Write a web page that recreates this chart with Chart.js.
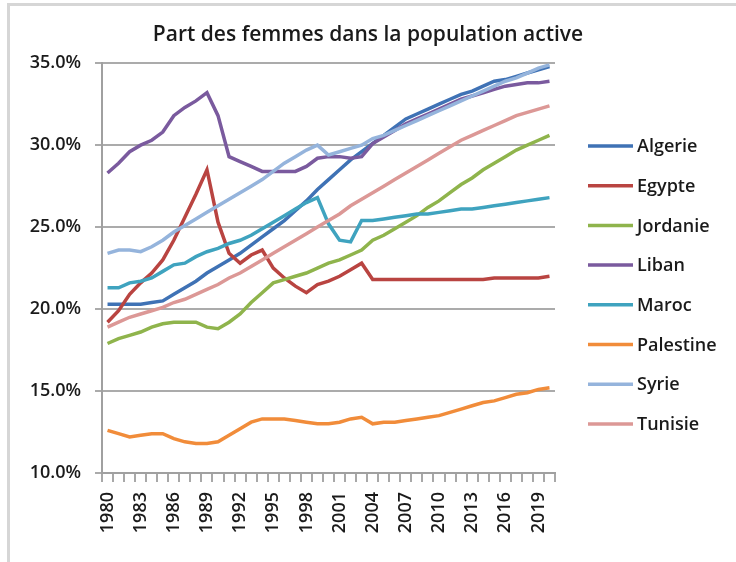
<!DOCTYPE html>
<html><head><meta charset="utf-8">
<script src="https://cdn.jsdelivr.net/npm/chart.js@4/dist/chart.umd.min.js"></script>
<style>
html,body{margin:0;padding:0;background:#fff;}
#wrap{position:relative;width:736px;height:562px;overflow:hidden;}
#frame{position:absolute;left:7px;top:3px;width:729px;height:559px;border-top:3px solid #d6d6d6;border-left:3px solid #d6d6d6;box-sizing:border-box;}
canvas{position:absolute;left:0;top:0;}
</style></head><body>
<div id="wrap"><div id="frame"></div><canvas id="c" width="736" height="562"></canvas></div>
<script>
const chartTitle = "Part des femmes dans la population active";
const years = ["1980","1981","1982","1983","1984","1985","1986","1987","1988","1989","1990","1991","1992","1993","1994","1995","1996","1997","1998","1999","2000","2001","2002","2003","2004","2005","2006","2007","2008","2009","2010","2011","2012","2013","2014","2015","2016","2017","2018","2019","2020"];
const seriesNames = ["Algerie","Egypte","Jordanie","Liban","Maroc","Palestine","Syrie","Tunisie"];
const seriesColors = ["#3f72b5","#b94441","#8fb44c","#7a5a9e","#3fa3bf","#f18c3a","#95b4dc","#dc9896"];
const algerie = [20.3,20.3,20.3,20.3,20.4,20.5,20.9,21.3,21.7,22.2,22.6,23.0,23.4,23.9,24.4,24.9,25.4,26.0,26.6,27.3,27.9,28.5,29.1,29.6,30.1,30.6,31.1,31.6,31.9,32.2,32.5,32.8,33.1,33.3,33.6,33.9,34.0,34.2,34.4,34.6,34.8];
const egypte = [19.2,19.9,20.9,21.6,22.2,23.0,24.2,25.6,27.0,28.5,25.3,23.4,22.8,23.3,23.6,22.5,21.9,21.4,21.0,21.5,21.7,22.0,22.4,22.8,21.8,21.8,21.8,21.8,21.8,21.8,21.8,21.8,21.8,21.8,21.8,21.9,21.9,21.9,21.9,21.9,22.0];
const jordanie = [17.9,18.2,18.4,18.6,18.9,19.1,19.2,19.2,19.2,18.9,18.8,19.2,19.7,20.4,21.0,21.6,21.8,22.0,22.2,22.5,22.8,23.0,23.3,23.6,24.2,24.5,24.9,25.3,25.7,26.2,26.6,27.1,27.6,28.0,28.5,28.9,29.3,29.7,30.0,30.3,30.6];
const liban = [28.3,28.9,29.6,30.0,30.3,30.8,31.8,32.3,32.7,33.2,31.8,29.3,29.0,28.7,28.4,28.4,28.4,28.4,28.7,29.2,29.3,29.3,29.2,29.3,30.1,30.5,30.9,31.3,31.6,31.9,32.2,32.5,32.8,33.0,33.2,33.4,33.6,33.7,33.8,33.8,33.9];
const maroc = [21.3,21.3,21.6,21.7,21.9,22.3,22.7,22.8,23.2,23.5,23.7,24.0,24.2,24.5,24.9,25.3,25.7,26.1,26.5,26.8,25.2,24.2,24.1,25.4,25.4,25.5,25.6,25.7,25.8,25.8,25.9,26.0,26.1,26.1,26.2,26.3,26.4,26.5,26.6,26.7,26.8];
const palestine = [12.6,12.4,12.2,12.3,12.4,12.4,12.1,11.9,11.8,11.8,11.9,12.3,12.7,13.1,13.3,13.3,13.3,13.2,13.1,13.0,13.0,13.1,13.3,13.4,13.0,13.1,13.1,13.2,13.3,13.4,13.5,13.7,13.9,14.1,14.3,14.4,14.6,14.8,14.9,15.1,15.2];
const syrie = [23.4,23.6,23.6,23.5,23.8,24.2,24.7,25.1,25.5,25.9,26.3,26.7,27.1,27.5,27.9,28.4,28.9,29.3,29.7,30.0,29.4,29.6,29.8,30.0,30.4,30.6,30.9,31.2,31.5,31.8,32.1,32.4,32.7,33.0,33.3,33.6,33.9,34.1,34.4,34.7,34.9];
const tunisie = [18.9,19.2,19.5,19.7,19.9,20.1,20.4,20.6,20.9,21.2,21.5,21.9,22.2,22.6,23.0,23.4,23.8,24.2,24.6,25.0,25.4,25.8,26.3,26.7,27.1,27.5,27.9,28.3,28.7,29.1,29.5,29.9,30.3,30.6,30.9,31.2,31.5,31.8,32.0,32.2,32.4];
const seriesValues = [algerie,egypte,jordanie,liban,maroc,palestine,syrie,tunisie];
const yMin = 10, yMax = 35, yStep = 5;

const FONT = "'Open Sans', 'Liberation Sans', sans-serif";
const TEXT = "#1a1a1a";

const sideLegend = {
  id: 'sideLegend',
  afterDraw(chart) {
    const ctx = chart.ctx;
    ctx.save();
    ctx.font = "600 18px " + FONT;
    ctx.textBaseline = 'middle';
    ctx.textAlign = 'left';
    chart.data.datasets.forEach((ds, i) => {
      const y = 146 + i * 39.7;
      ctx.strokeStyle = ds.borderColor;
      ctx.lineWidth = 3.5;
      ctx.beginPath(); ctx.moveTo(588, y); ctx.lineTo(633, y); ctx.stroke();
      ctx.fillStyle = TEXT;
      ctx.fillText(ds.label, 637, y + 1);
    });
    ctx.restore();
  }
};

new Chart(document.getElementById('c'), {
  type: 'line',
  data: {
    labels: years,
    datasets: seriesNames.map((n, i) => ({
      label: n,
      data: seriesValues[i],
      borderColor: seriesColors[i],
      backgroundColor: seriesColors[i],
      borderWidth: 3.5,
      pointRadius: 0,
      tension: 0,
      order: seriesNames.length - i
    }))
  },
  options: {
    responsive: false,
    animation: false,
    devicePixelRatio: 1,
    layout: { padding: { left: 0, right: 0, top: 0, bottom: 0 } },
    plugins: {
      legend: { display: false },
      tooltip: { enabled: false },
      title: {
        display: true,
        text: chartTitle,
        color: TEXT,
        font: { family: FONT, size: 21, weight: '600' },
        padding: { top: 22, bottom: 16 }
      }
    },
    scales: {
      x: {
        type: 'category',
        offset: true,
        grid: { display: true, offset: true, drawOnChartArea: false, drawTicks: true, tickLength: 9, color: '#a8a8a8', lineWidth: 2 },
        border: { color: '#a0a0a0', width: 2 },
        ticks: {
          autoSkip: false, maxRotation: 90, minRotation: 90, padding: 10,
          color: TEXT, font: { family: FONT, size: 18, weight: '600' },
          callback: (v, i) => (i % 3 === 0 ? years[i] : '')
        },
        afterFit: s => { s.height = 89; }
      },
      y: {
        min: yMin, max: yMax,
        ticks: { stepSize: yStep, padding: 14, color: TEXT, font: { family: FONT, size: 18, weight: '600' },
          callback: v => v.toFixed(1) + '%' },
        grid: { color: '#ababab', lineWidth: 2, tickLength: 7 },
        border: { color: '#a0a0a0', width: 2 },
        afterFit: s => { s.width = 102; }
      },
      legendSpace: {
        type: 'linear',
        position: 'right',
        display: true,
        grid: { display: false, drawTicks: false },
        border: { display: false },
        ticks: { display: false },
        afterFit: s => { s.width = 181; }
      }
    }
  },
  plugins: [sideLegend]
});
</script>
</body></html>
